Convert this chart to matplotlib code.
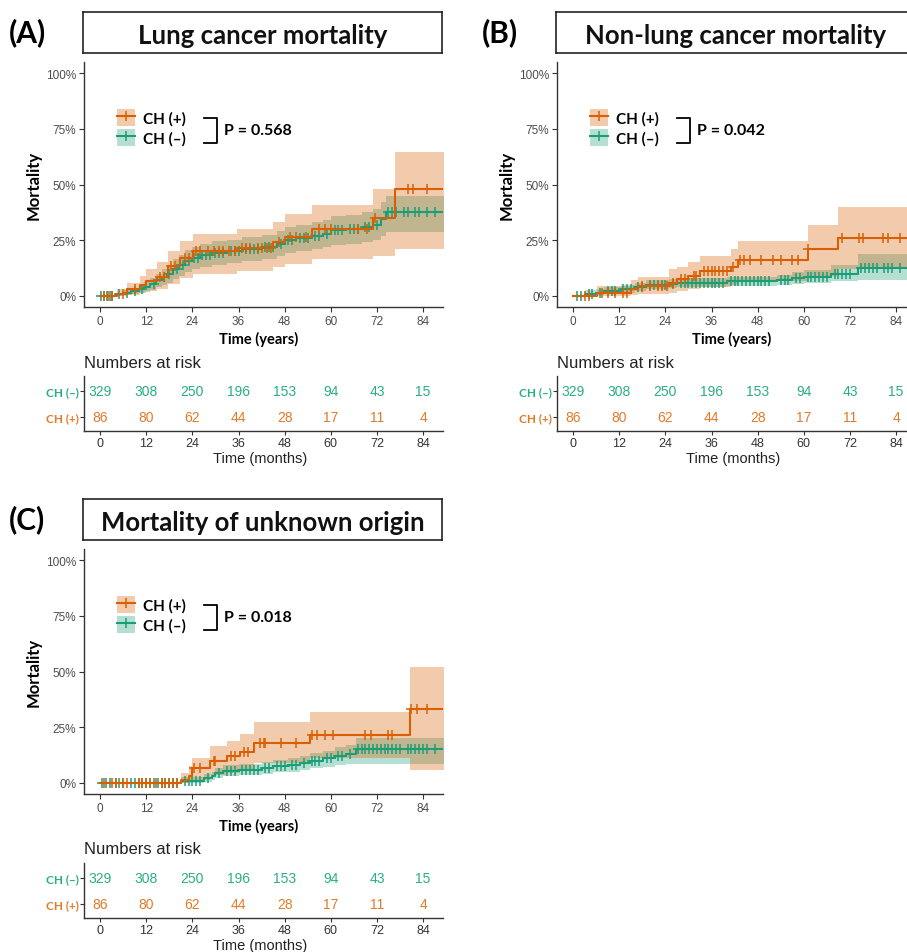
import numpy as np
import matplotlib
matplotlib.use("Agg")
import matplotlib.pyplot as plt
from matplotlib.patches import Patch
from matplotlib.lines import Line2D

# ---------------- data ----------------
T_END = 89.5

# Panel A: Lung cancer mortality
A_pos_t   = [0, 4.3, 7, 10.4, 12, 14.7, 17.7, 20.8, 24.2, 35.5, 45, 48, 55, 71, 76.6]
A_pos_est = [0, 0.8, 3, 5, 6.5, 8.5, 13.5, 17, 20, 21.7, 24, 26.5, 30, 35, 48]
A_pos_lo  = [0, 0, 0.5, 1.5, 2, 3, 5.5, 8, 10, 11, 13, 14.5, 16.5, 18, 21]
A_pos_hi  = [0, 3, 6, 9, 12, 15, 20, 24.8, 27.8, 30, 33, 36.8, 40.8, 48, 64.5]
A_pos_cens = [1, 2, 3, 6, 9, 15.5, 16.5, 18.5, 19.5, 22, 23, 25, 26, 28, 29.5, 31, 32,
              33.5, 35, 37, 38, 39, 41, 42, 43.5, 44.5, 46.5, 49.5, 51, 53.5, 57, 58.5,
              60, 67, 69.5, 71.5, 80, 81.5, 85]

A_neg_t   = [0, 4, 6, 8, 10, 11.5, 13, 14.5, 16, 17.5, 19, 20.5, 22, 24, 26, 29, 33, 37,
             42, 46, 48, 51, 55, 58, 60, 64, 68, 71, 73, 74.5]
A_neg_est = [0, 0.7, 1.3, 2, 3, 4, 5.5, 7, 8.5, 10, 12, 14, 15.5, 17, 18.2, 19.2, 20, 21,
             22, 23.5, 25, 26, 27, 28, 29.5, 30, 31, 32, 34.5, 37.5]
A_neg_lo  = [0, 0, 0.3, 0.7, 1.2, 1.8, 2.7, 3.8, 4.8, 6, 7.5, 9, 10.5, 12, 13, 14, 14.8,
             15.7, 16.6, 18, 19.2, 20, 21, 21.8, 23, 23.5, 24.2, 25, 27, 28.5]
A_neg_hi  = [0, 1.5, 2.5, 3.5, 5, 6.3, 8, 10, 12, 14, 16.5, 18.5, 20.5, 22, 23.5, 24.5,
             25.3, 26.3, 27.5, 29, 30.8, 32, 33, 34.2, 36, 36.5, 37.8, 39, 42, 45]
A_neg_cens = [0.3, 1, 1.8, 2.5, 3.2, 5, 7, 9, 11, 14, 16.5, 18, 20, 21.5, 23, 24.5, 25.5,
              26.5, 27.5, 28.5, 30, 31, 32, 34, 35, 36, 38, 39, 40, 41, 43, 44, 45, 47,
              49, 50, 52, 53, 54, 56, 57, 59, 61, 62, 63, 65, 66, 67, 69, 70, 72, 75, 76,
              77, 79, 80, 82, 83, 85, 87]

# Panel B: Non-lung cancer mortality
B_pos_t   = [0, 6.3, 15, 17, 25, 27, 30, 33, 41, 43, 61, 69]
B_pos_est = [0, 1.5, 3, 4.5, 6, 7.5, 9, 11, 13, 16, 21, 26]
B_pos_lo  = [0, 0, 0.5, 1, 1.5, 2, 3, 4, 5, 6.5, 9, 12]
B_pos_hi  = [0, 4.5, 7, 8.5, 12, 13, 15, 18, 21, 24.8, 32, 40]
B_pos_cens = [3, 4, 7.5, 9, 11, 13, 14, 18, 20, 22, 23, 24.5, 26, 28, 29, 31.5, 32, 34, 35,
              36, 37, 38, 39, 40, 41.5, 43.5, 44.5, 46, 49, 52, 54, 57, 58.5, 61, 70, 74.5,
              75.5, 80.5, 82, 85]

B_neg_t   = [0, 3, 6, 8, 12.5, 16, 19, 25, 27, 40, 53, 57, 60, 67, 74]
B_neg_est = [0, 1, 1.5, 2, 3, 4, 5, 5.5, 6, 6.5, 7, 8, 8.5, 10, 12.5]
B_neg_lo  = [0, 0.2, 0.5, 0.8, 1.4, 2.2, 3, 3.5, 3.9, 4.3, 4.8, 5.5, 5.8, 6.5, 7]
B_neg_hi  = [0, 2.5, 3.2, 4, 5, 6, 7, 7.5, 8, 8.6, 9.3, 10.5, 11.5, 14, 19]
B_neg_cens = [1, 2, 4, 5, 7, 9, 10, 11, 13, 14, 15, 17, 18, 20, 21, 22, 23, 24, 26, 28, 29,
              30, 31, 32, 33, 34, 35, 36, 37, 38, 39, 41, 42, 43, 44, 45, 46, 47, 48, 49,
              50, 51, 54, 55, 56, 58, 59, 61, 62, 63, 64, 65, 66, 68, 69, 70, 71, 72, 75,
              76, 77, 78, 79, 81, 82, 83, 85, 87]

# Panel C: Mortality of unknown origin
C_pos_t   = [0, 21, 23, 24, 28.5, 33, 36.5, 40, 54.5, 80.5]
C_pos_est = [0, 1.5, 3, 6.5, 10, 12, 14, 18, 21.5, 33]
C_pos_lo  = [0, 0, 0.3, 1.5, 3.5, 4.5, 5.5, 9, 11, 6]
C_pos_hi  = [0, 4.5, 7.5, 11, 16.5, 19, 22, 27.5, 32, 52]
C_pos_cens = [1, 3, 4, 6, 7, 10, 11, 12, 13, 14.5, 16, 17, 18, 19, 20, 24.5, 26, 29.5, 30,
              34, 35, 37.5, 38.5, 41.5, 42.5, 43, 47, 51, 55, 56.5, 58.5, 60.5, 69, 70.5,
              75, 76, 81, 82.5, 85]

C_neg_t   = [0, 21, 27, 29, 30, 32, 36, 42, 45, 49, 52, 54.5, 58, 61, 64, 66.5]
C_neg_est = [0, 1, 2, 3, 4.5, 5.5, 6, 6.5, 7.5, 8, 9, 10, 11, 12, 13, 15]
C_neg_lo  = [0, 0, 0.5, 1.2, 2.3, 3, 3.5, 4, 4.7, 5, 5.8, 6.5, 7.2, 8, 8.5, 8.5]
C_neg_hi  = [0, 2.5, 3.8, 5, 6.8, 8, 8.5, 9.2, 10.3, 11, 12.2, 13.5, 14.5, 16, 17, 20]
C_neg_cens = [0.5, 1.5, 2.5, 4, 5, 6, 8, 9, 10, 11, 12, 13, 14, 15, 16, 17, 18, 19, 20, 22,
              23, 24, 25, 26, 28, 31, 33, 34, 35, 37, 38, 39, 40, 41, 43, 44, 46, 47, 48,
              50, 51, 53, 55, 56, 57, 59, 60, 62, 63, 65, 67, 68, 69, 70, 71, 72, 73, 74,
              75, 76, 77, 78, 80, 81, 82, 83, 84, 85, 87]

risk_times = [0, 12, 24, 36, 48, 60, 72, 84]
risk_neg = [329, 308, 250, 196, 153, 94, 43, 15]
risk_pos = [86, 80, 62, 44, 28, 17, 11, 4]

titles = ["Lung cancer mortality", "Non-lung cancer mortality", "Mortality of unknown origin"]
tags = ["(A)", "(B)", "(C)"]
pvals = ["P = 0.568", "P = 0.042", "P = 0.018"]
group_labels = ["CH (+)", "CH (\u2013)"]
y_ticks = [0, 25, 50, 75, 100]
y_ticklabels = ["0%", "25%", "50%", "75%", "100%"]

# ---------------- style ----------------
ORANGE = "#D95F02"
GREEN = "#1B9E77"
ORANGE_TXT = "#E07B2A"
GREEN_TXT = "#2AAE84"
BOLD_FONT = ["Lato", "DejaVu Sans"]
REG_FONT = ["Liberation Sans", "DejaVu Sans"]
SPINE = "#333333"
TICKC = "#4D4D4D"

W, H = 907, 953
fig = plt.figure(figsize=(W / 100, H / 100), dpi=100)


def add_ax(l, t, r, b):
    return fig.add_axes([l / W, 1 - b / H, (r - l) / W, (b - t) / H])


def ext(t, v):
    return np.append(t, T_END), np.append(v, v[-1])


def draw_group(ax, t, est, lo, hi, cens, color, alpha, z):
    tt, ee = ext(t, est)
    _, ll = ext(t, lo)
    _, hh = ext(t, hi)
    ax.fill_between(tt, ll, hh, step="post", color=color, alpha=alpha, lw=0, zorder=z)
    ax.step(tt, ee, where="post", color=color, lw=1.5, zorder=z + 3)
    t_arr = np.asarray(t)
    c = np.asarray(cens)
    idx = np.searchsorted(t_arr, c, side="right") - 1
    cy = np.asarray(est)[idx]
    ax.plot(c, cy, ls="none", marker="+", ms=6.5, mew=1.1, color=color, zorder=z + 4)


def style_axes(ax, length=3.5, pad=2):
    for s in ["top", "right"]:
        ax.spines[s].set_visible(False)
    for s in ["left", "bottom"]:
        ax.spines[s].set_color(SPINE)
        ax.spines[s].set_linewidth(1.0)
    ax.tick_params(colors=SPINE, length=length, width=0.8, pad=pad)


panels = [
    dict(pos=(A_pos_t, A_pos_est, A_pos_lo, A_pos_hi, A_pos_cens),
         neg=(A_neg_t, A_neg_est, A_neg_lo, A_neg_hi, A_neg_cens),
         dx=0, dy=0),
    dict(pos=(B_pos_t, B_pos_est, B_pos_lo, B_pos_hi, B_pos_cens),
         neg=(B_neg_t, B_neg_est, B_neg_lo, B_neg_hi, B_neg_cens),
         dx=473, dy=0),
    dict(pos=(C_pos_t, C_pos_est, C_pos_lo, C_pos_hi, C_pos_cens),
         neg=(C_neg_t, C_neg_est, C_neg_lo, C_neg_hi, C_neg_cens),
         dx=0, dy=487),
]

for i, p in enumerate(panels):
    dx, dy = p["dx"], p["dy"]
    # tag
    fig.text((9 + dx) / W, 1 - (33 + dy) / H, tags[i], fontsize=21.5, fontweight="bold",
             family=BOLD_FONT, ha="left", va="center")
    # title box
    tax = add_ax(83 + dx, 13 + dy, 442 + dx, 54 + dy)
    tax.set_xticks([]); tax.set_yticks([])
    for s in tax.spines.values():
        s.set_linewidth(1.2); s.set_color("#222222")
    tax.text(0.5, 0.44, titles[i], transform=tax.transAxes, ha="center", va="center",
             fontsize=18.5, fontweight="bold", family=BOLD_FONT, color="#111111")

    # main plot
    ax = add_ax(84 + dx, 63 + dy, 443 + dx, 308 + dy)
    draw_group(ax, *p["neg"], GREEN, 0.32, 1)
    draw_group(ax, *p["pos"], ORANGE, 0.32, 2)
    ax.set_xlim(-4.2, 89.2)
    ax.set_ylim(-5, 105)
    ax.set_xticks(risk_times)
    ax.set_yticks(y_ticks)
    ax.set_yticklabels(y_ticklabels)
    style_axes(ax)
    for lab in ax.get_xticklabels() + ax.get_yticklabels():
        lab.set_family(REG_FONT); lab.set_fontsize(8.5); lab.set_color(TICKC)
    ax.set_ylabel("Mortality", fontsize=12, fontweight="bold", family=BOLD_FONT)
    ax.yaxis.set_label_coords(-0.117, 0.5)
    ax.set_xlabel("Time (years)", fontsize=10.5, fontweight="bold", family=BOLD_FONT)
    ax.xaxis.set_label_coords(0.487, -0.098)

    # legend
    handles = [
        (Patch(facecolor=ORANGE, alpha=0.32, lw=0),
         Line2D([], [], color=ORANGE, lw=1.5, marker="+", ms=6.5, mew=1.1)),
        (Patch(facecolor=GREEN, alpha=0.32, lw=0),
         Line2D([], [], color=GREEN, lw=1.5, marker="+", ms=6.5, mew=1.1)),
    ]
    ax.legend(handles, group_labels, loc="upper left",
              bbox_to_anchor=((117 - 84) / 359, (308 - 110) / 245),
              frameon=False, borderpad=0, borderaxespad=0, handlelength=1.15,
              handleheight=1.3, labelspacing=0.22, handletextpad=0.55, numpoints=1,
              prop={"family": BOLD_FONT, "weight": "bold", "size": 11})
    # bracket + p value
    x0, x1 = (204 - 84) / 359, (217 - 84) / 359
    yt, yb = (308 - 119) / 245, (308 - 144) / 245
    ax.plot([x0, x1, x1, x0], [yt, yt, yb, yb], transform=ax.transAxes, color="black",
            lw=1.3, clip_on=False)
    ax.text((224 - 84) / 359, (308 - 131) / 245, pvals[i], transform=ax.transAxes,
            ha="left", va="center", fontsize=11.5, fontweight="bold", family=BOLD_FONT)

    # risk table
    rdy = 0 if i < 2 else 487
    fig.text((84 + dx) / W, 1 - (363 + rdy) / H, "Numbers at risk", fontsize=12,
             family=REG_FONT, ha="left", va="center", color="#222222")
    rax = add_ax(84 + dx, 377 + rdy, 443 + dx, 432 + rdy)
    rax.set_xlim(-4.2, 89.2)
    rax.set_ylim(-0.55, 1.58)
    for t, n1, n0 in zip(risk_times, risk_neg, risk_pos):
        rax.text(t, 1, str(n1), ha="center", va="center", fontsize=10, color=GREEN_TXT,
                 family=REG_FONT)
        rax.text(t, 0, str(n0), ha="center", va="center", fontsize=10, color=ORANGE_TXT,
                 family=REG_FONT)
    rax.set_xticks(risk_times)
    rax.set_yticks([0, 1])
    rax.set_yticklabels(["CH (+)", "CH (\u2013)"])
    style_axes(rax, length=3, pad=1)
    for lab in rax.get_xticklabels():
        lab.set_family(REG_FONT); lab.set_fontsize(9); lab.set_color("#333333")
    ylabs = rax.get_yticklabels()
    for lab, col in zip(ylabs, [ORANGE_TXT, GREEN_TXT]):
        lab.set_family(BOLD_FONT); lab.set_fontweight("bold"); lab.set_fontsize(8.5)
        lab.set_color(col)
    rax.set_xlabel("Time (months)", fontsize=10.5, family=REG_FONT, color="#222222",
                   labelpad=0, va="top")
    rax.xaxis.set_label_coords(0.49, -0.37)

fig.savefig("out.png", dpi=100)
